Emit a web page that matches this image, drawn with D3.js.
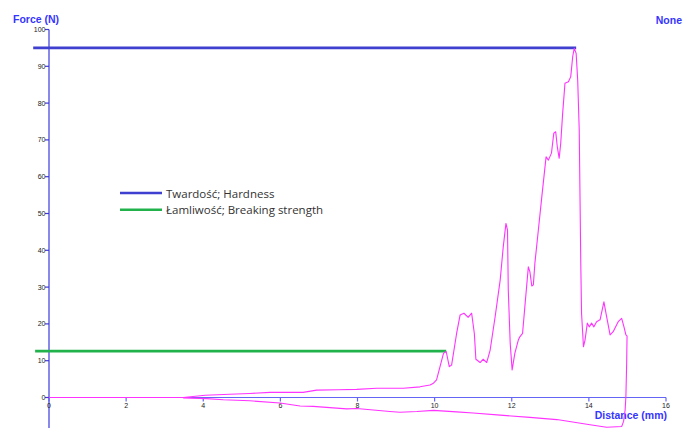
<!DOCTYPE html>
<html>
<head>
<meta charset="utf-8">
<script src="https://cdn.jsdelivr.net/npm/d3@7"></script>
<style>
  body { margin: 0; background: #fff; }
  svg { display: block; }
</style>
</head>
<body>
<div id="canvas"></div>
<script>
// force trace: loading forward, then retraction back
let distance = [0, 1, 2, 3, 3.48, 4.05, 4.69, 5.2, 5.73, 6.59, 6.94, 7.5, 7.98, 8.5, 9.19, 9.62, 9.88, 9.97, 10.05, 10.14, 10.23, 10.3,
    10.38, 10.44, 10.57, 10.66, 10.76, 10.87, 10.96, 11.03, 11.07, 11.18, 11.26, 11.35, 11.44, 11.57, 11.7, 11.78, 11.85, 11.89,
    11.91, 11.96, 12.01, 12.08, 12.17, 12.21, 12.28, 12.34, 12.43, 12.47, 12.52, 12.56, 12.6, 12.69, 12.78, 12.89, 12.95, 13.03,
    13.09, 13.14, 13.18, 13.23, 13.27, 13.32, 13.38, 13.47, 13.53, 13.58, 13.62, 13.67, 13.71, 13.75, 13.77, 13.79, 13.81, 13.86,
    13.9, 13.96, 14.01, 14.07, 14.13, 14.2, 14.29, 14.39, 14.46, 14.55, 14.63, 14.76, 14.85, 14.91, 14.96, 14.99, 14.98, 14.96,
    14.94, 14.9,
    14.85, 14.46, 14.03, 13.17, 12.47, 11.7, 11.0, 10.57, 9.97, 9.54, 9.1, 8.84, 7.98, 7.72, 6.85, 6.51, 5.99, 5.21, 4.52, 4.09, 3.48];
let force = [0, 0, 0, 0, 0, 0.6, 0.9, 1.1, 1.4, 1.4, 2.0, 2.1, 2.2, 2.5, 2.5, 2.9, 3.4, 3.9, 4.8, 8.4, 12.0, 12.5,
    8.4, 8.8, 17.4, 22.4, 22.9, 21.8, 22.9, 17.4, 10.4, 9.5, 10.4, 9.5, 12.9, 22.0, 31.9, 41.0, 47.3, 45.5,
    29.2, 14.7, 7.5, 12.0, 15.6, 16.5, 17.4, 24.7, 35.5, 34.2, 30.3, 30.6, 36.5, 45.5, 54.6, 65.4, 64.5, 66.4,
    71.8, 72.2, 68.2, 65.0, 69.1, 77.2, 85.4, 85.8, 87.2, 92.6, 94.9, 93.5, 86.3, 72.7, 54.6, 36.5, 22.9, 13.8,
    15.6, 20.2, 19.2, 20.2, 19.2, 20.6, 21.1, 26.0, 22.0, 17.0, 17.9, 20.6, 21.5, 19.2, 17.0, 16.7, 9.3, 0.2,
    -3.4, -6.5,
    -7.9, -8.1, -7.4, -6.0, -5.4, -4.8, -4.2, -3.9, -3.5, -3.8, -4.0, -3.8, -3.0, -3.1, -2.4, -2.3, -1.5, -0.9, -0.6, -0.3, -0.1];

// reference lines
let hardnessX = [-0.41, 13.67];
let hardnessY = 95;
let breakingX = [-0.36, 10.3];
let breakingY = 12.6;

let xTicks = [0, 2, 4, 6, 8, 10, 12, 14, 16];
let yTicks = [0, 10, 20, 30, 40, 50, 60, 70, 80, 90, 100];
let legendLabels = ["Twardość; Hardness", "Łamliwość; Breaking strength"];

let width = 686;
let height = 428;

var svg = d3.select("#canvas").append("svg")
    .attr("width", width)
    .attr("height", height);

var xScale = d3.scaleLinear()
    .domain([0, 16])
    .range([49, 666]);

var yScale = d3.scaleLinear()
    .domain([0, 100])
    .range([397.5, 29.5]);

// y axis
svg.append("line")
    .attr("x1", xScale(0)).attr("x2", xScale(0))
    .attr("y1", yScale(100)).attr("y2", height)
    .attr("stroke", "#3a3ae0").attr("stroke-width", 1.2);

yTicks.forEach(function (t) {
    svg.append("line")
        .attr("x1", xScale(0) - 4).attr("x2", xScale(0))
        .attr("y1", yScale(t)).attr("y2", yScale(t))
        .attr("stroke", "#3a3ae0").attr("stroke-width", 1.2);
    svg.append("text")
        .attr("x", xScale(0) - 3.5).attr("y", yScale(t) + 2.5)
        .attr("text-anchor", "end")
        .attr("font-family", "Liberation Sans, Arial, sans-serif")
        .attr("font-size", 7).attr("fill", "#222")
        .text(t);
});

// x axis
svg.append("line")
    .attr("x1", xScale(0)).attr("x2", xScale(16))
    .attr("y1", yScale(0)).attr("y2", yScale(0))
    .attr("stroke", "#6464f5").attr("stroke-width", 1.2);

xTicks.forEach(function (t) {
    svg.append("line")
        .attr("x1", xScale(t)).attr("x2", xScale(t))
        .attr("y1", yScale(0)).attr("y2", yScale(0) + 4)
        .attr("stroke", "#6464f5").attr("stroke-width", 1.2);
    svg.append("text")
        .attr("x", xScale(t)).attr("y", yScale(0) + 10.5)
        .attr("text-anchor", "middle")
        .attr("font-family", "Liberation Sans, Arial, sans-serif")
        .attr("font-size", 7).attr("fill", "#222")
        .text(t);
});

// axis titles
svg.append("text")
    .attr("x", 13).attr("y", 22.5)
    .attr("font-family", "Liberation Sans, Arial, sans-serif")
    .attr("font-size", 10.5).attr("font-weight", "bold").attr("fill", "#3535ff")
    .text("Force (N)");
svg.append("text")
    .attr("x", 682).attr("y", 23.5)
    .attr("text-anchor", "end")
    .attr("font-family", "Liberation Sans, Arial, sans-serif")
    .attr("font-size", 10.5).attr("font-weight", "bold").attr("fill", "#3535ff")
    .text("None");
svg.append("text")
    .attr("x", 667).attr("y", 419)
    .attr("text-anchor", "end")
    .attr("font-family", "Liberation Sans, Arial, sans-serif")
    .attr("font-size", 10.5).attr("font-weight", "bold").attr("fill", "#3535ff")
    .text("Distance (mm)");

// hardness / breaking strength lines
svg.append("line")
    .attr("x1", xScale(hardnessX[0])).attr("x2", xScale(hardnessX[1]))
    .attr("y1", yScale(hardnessY)).attr("y2", yScale(hardnessY))
    .attr("stroke", "#3f3fd0").attr("stroke-width", 2.6);
svg.append("line")
    .attr("x1", xScale(breakingX[0])).attr("x2", xScale(breakingX[1]))
    .attr("y1", yScale(breakingY)).attr("y2", yScale(breakingY))
    .attr("stroke", "#22b24c").attr("stroke-width", 2.6);

// trace
var pts = distance.map(function (d, i) { return [d, force[i]]; });
svg.append("path")
    .datum(pts)
    .attr("d", d3.line()
        .x(function (d) { return xScale(d[0]); })
        .y(function (d) { return yScale(d[1]); }))
    .attr("fill", "none")
    .attr("stroke", "#ff33ff")
    .attr("stroke-width", 1.1)
    .attr("stroke-linejoin", "round");

// legend
let legendColors = ["#3f3fd0", "#22b24c"];
legendLabels.forEach(function (lab, i) {
    let ly = 193 + i * 16.7;
    svg.append("line")
        .attr("x1", 120).attr("x2", 162)
        .attr("y1", ly).attr("y2", ly)
        .attr("stroke", legendColors[i]).attr("stroke-width", 2.6);
    svg.append("text")
        .attr("x", 166).attr("y", ly + 4.5)
        .attr("font-family", "Open Sans, sans-serif")
        .attr("font-size", 11.5).attr("fill", "#333")
        .text(lab);
});
</script>
</body>
</html>
